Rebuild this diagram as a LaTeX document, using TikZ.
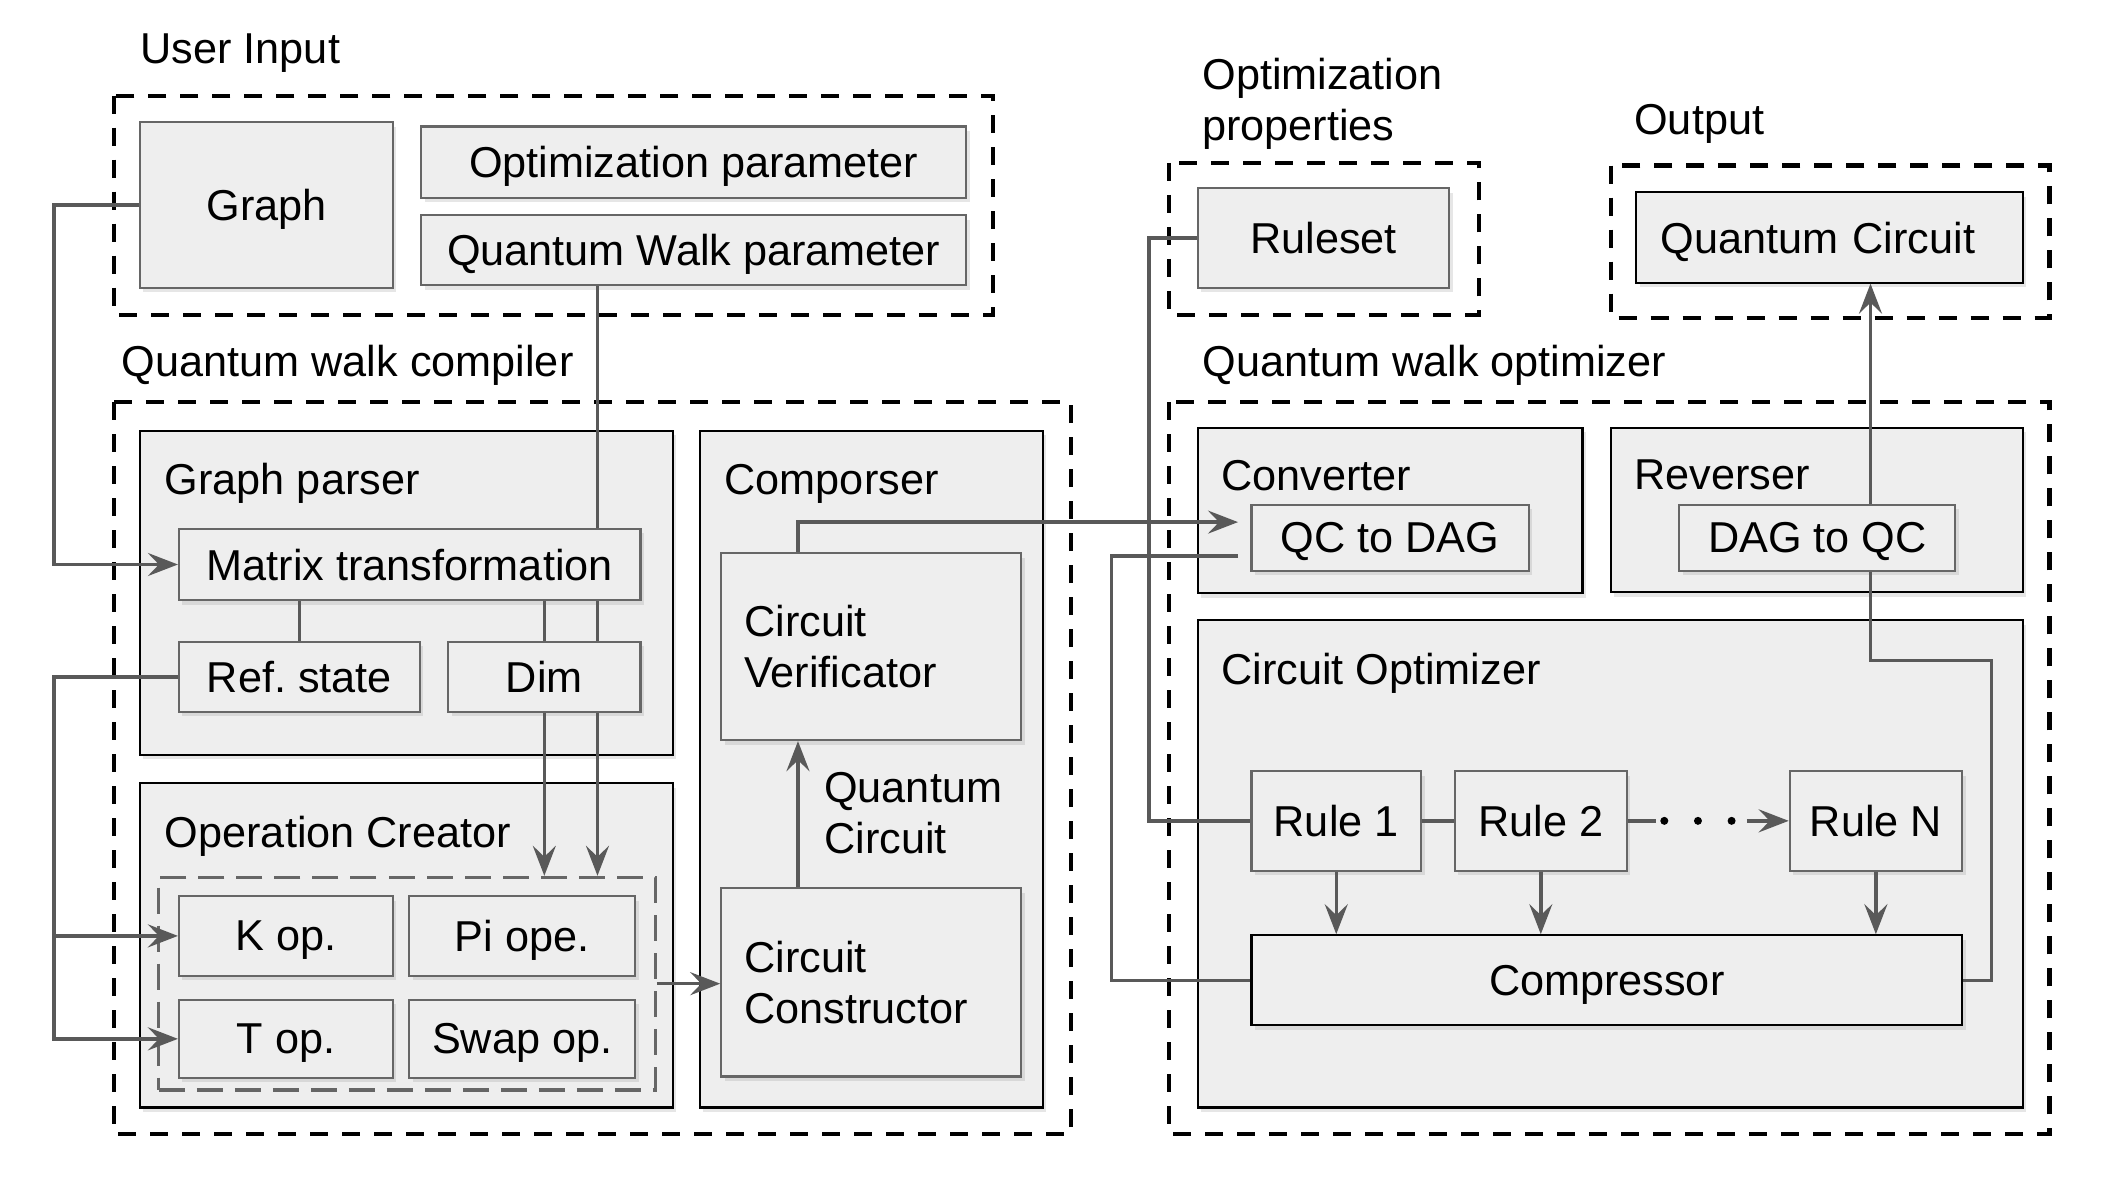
\documentclass[tikz,border=0pt]{standalone}
\usepackage{fontspec}
\setmainfont{Liberation Sans}
\usetikzlibrary{arrows.meta,calc,shadows}
\definecolor{boxfill}{HTML}{EEEEEE}
\definecolor{boxline}{HTML}{666666}
\definecolor{wire}{HTML}{595959}
\frenchspacing
\begin{document}
\begin{tikzpicture}[x=0.13457mm,y=-0.13457mm,
  font=\fontsize{12.3}{14.5}\selectfont,
  sz/.style 2 args={minimum width=#1*0.13457mm,minimum height=#2*0.13457mm},
  plain/.style={draw=boxline,line width=0.6pt,fill=boxfill,inner sep=0pt,
    drop shadow={shadow xshift=0.35mm,shadow yshift=-0.45mm,opacity=0.2}},
  box/.style={plain,text depth=0pt},
  frame/.style={box,draw=black},
  group/.style={draw=black,line width=1.15pt,dash pattern=on 1.8mm off 1.4mm},
  opsgroup/.style={draw=boxline,line width=0.9pt,dash pattern=on 2.6mm off 1.2mm,inner sep=0pt},
  title/.style={anchor=west,inner sep=0pt,align=left,text depth=0pt},
  wire/.style={draw=wire,line width=1pt},
  arr/.style={wire,-{Stealth[length=3mm,width=2.3mm,inset=1.1mm]}}]
	\useasboundingbox (0,0) rectangle (1568,883);
	\node[title] (tin) at (104,36) {User Input};
	\draw[group] (85,71) rectangle (738,234);
	\node[box,sz={188}{123}] (graph) at (198,152.5) {Graph};
	\node[box,sz={405}{53}] (optpar) at (515.5,120.5) {Optimization parameter};
	\node[box,sz={405}{52}] (qwpar) at (515.5,186) {Quantum Walk parameter};
	\node[title] (tcomp) at (90,268) {Quantum walk compiler};
	\draw[group] (85,299) rectangle (796,843);
	\node[frame,sz={396}{241}] (parser) at (302,440.5) {};
	\node[title] (tparser) at (122,356) {Graph parser};
	\node[box,sz={343}{53}] (matrix) at (304.5,419.5) {Matrix transformation};
	\node[box,sz={179}{52}] (refst) at (222.5,503) {Ref. state};
	\node[box,sz={143}{52}] (dim) at (404.5,503) {Dim};
	\node[frame,sz={396}{241}] (opcr) at (302,702.5) {};
	\node[title] (topcr) at (122,618) {Operation Creator};
	\node[opsgroup,sz={369}{158}] (ops) at (302.5,731) {};
	\node[box,sz={159}{59}] (kop) at (212.5,695.5) {K op.};
	\node[box,sz={168}{59}] (pop) at (388,695.5) {Pi ope.};
	\node[box,sz={159}{58}] (tope) at (212.5,772) {T op.};
	\node[box,sz={168}{58}] (sop) at (388,772) {Swap op.};
	\node[frame,sz={255}{503}] (compo) at (647.5,571.5) {};
	\node[title] (tcompo) at (538,356) {Comporser};
	\node[plain,sz={223}{139},align=left,text width=25.4mm] (verif) at (647.5,480.5) {Circuit\\Verificator};
	\node[plain,sz={223}{140},align=left,text width=25.4mm] (constr) at (647.5,730) {Circuit\\Constructor};
	\node[title] (tqc) at (612,604) {Quantum\\Circuit};
	\node[title] (topt) at (893,74) {Optimization\\properties};
	\draw[group] (869,121) rectangle (1099,234);
	\node[box,sz={187}{74}] (ruleset) at (983.5,177) {Ruleset};
	\node[title] (tout) at (1214,89) {Output};
	\draw[group] (1197,123) rectangle (1523,236);
	\node[frame,sz={287}{67},align=left,text width=33.8mm] (qcout) at (1359.5,176.5) {Quantum Circuit};
	\node[title] (topz) at (893,268) {Quantum walk optimizer};
	\draw[group] (869,299) rectangle (1523,843);
	\node[frame,sz={286}{123}] (conv) at (1033,379.5) {};
	\node[title] (tconv) at (907,353) {Converter};
	\node[box,sz={206}{49}] (qc2dag) at (1033,399.5) {QC to DAG};
	\node[frame,sz={306}{122}] (rev) at (1350,379) {};
	\node[title] (trev) at (1214,353) {Reverser};
	\node[box,sz={205}{49}] (dag2qc) at (1350.5,399.5) {DAG to QC};
	\node[frame,sz={613}{362}] (copt) at (1196.5,642) {};
	\node[title] (tcopt) at (907,497) {Circuit Optimizer};
	\node[box,sz={126}{74}] (rule1) at (993,610) {Rule 1};
	\node[box,sz={128}{74}] (rule2) at (1145,610) {Rule 2};
	\node[box,sz={128}{74}] (ruleN) at (1394,610) {Rule N};
	\node[frame,sz={528}{67}] (compr) at (1194,728.5) {Compressor};
	\coordinate (X1) at (40,0);
	\coordinate (X2) at (444,0);
	\coordinate (X3) at (593,0);
	\coordinate (X4) at (826,0);
	\coordinate (X5) at (854,0);
	\coordinate (X6) at (1390,0);
	\coordinate (R) at (1480,491);
	\coordinate (Cin) at (920,388);
	\coordinate (Cout) at (920,413);
	\draw[arr] (graph.west) -| (X1 |- matrix.west) -- (matrix.west);
	\draw[wire] (qwpar.south -| X2) -- (matrix.north -| X2);
	\draw[wire] (matrix.south -| refst.north) -- (refst.north);
	\draw[wire] (matrix.south -| dim.north) -- (dim.north);
	\draw[wire] (matrix.south -| X2) -- (dim.north -| X2);
	\draw[arr] (dim.south) -- (dim.south |- ops.north);
	\draw[arr] (dim.south -| X2) -- (ops.north -| X2);
	\draw[arr] (refst.west) -| (X1 |- tope.west) -- (tope.west);
	\draw[arr] (X1 |- kop.west) -- (kop.west);
	\draw[arr] (ops.east) -- (ops.east -| constr.west);
	\draw[arr] (constr.north -| X3) -- (verif.south -| X3);
	\draw[arr] (verif.north -| X3) |- (Cin);
	\draw[wire] (Cout) -| (X4 |- compr.west) -- (compr.west);
	\draw[wire] (ruleset.west) -| (X5 |- rule1.west) -- (rule1.west);
	\draw[wire] (rule1.east) -- (rule2.west);
	\draw[wire] (rule2.east) -- ($(rule2.east)+(21,0)$);
	\fill ($(rule2.east)+(27,0)$) circle (0.4mm);
	\fill ($(rule2.east)+(52,0)$) circle (0.4mm);
	\fill ($(rule2.east)+(77,0)$) circle (0.4mm);
	\draw[arr] ($(ruleN.west)+(-31,0)$) -- (ruleN.west);
	\draw[arr] (rule1.south) -- (rule1.south |- compr.north);
	\draw[arr] (rule2.south) -- (rule2.south |- compr.north);
	\draw[arr] (ruleN.south) -- (ruleN.south |- compr.north);
	\draw[wire] (compr.east) -| (R) -| (X6 |- dag2qc.south);
	\draw[arr] (X6 |- dag2qc.north) -- (X6 |- qcout.south);
\end{tikzpicture}
\end{document}
